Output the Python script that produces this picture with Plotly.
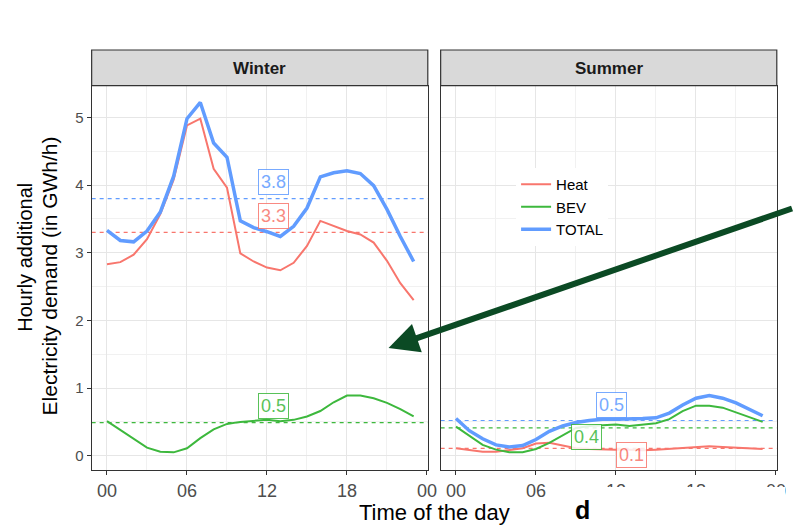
import plotly.graph_objects as go

# ---------------- data ----------------
hours = list(range(24))
tick_vals = [0, 6, 12, 18, 24]
tick_text = ["00", "06", "12", "18", "00"]
seasons = ["Winter", "Summer"]
series_names = ["Heat", "BEV", "TOTAL"]

winter_heat = [2.83, 2.86, 2.97, 3.20, 3.57, 4.08, 4.88, 4.98, 4.24, 3.96, 2.99, 2.87,
               2.78, 2.74, 2.85, 3.10, 3.47, 3.39, 3.32, 3.27, 3.15, 2.88, 2.55, 2.30]
winter_bev = [0.51, 0.38, 0.24, 0.12, 0.06, 0.05, 0.11, 0.26, 0.39, 0.47, 0.50, 0.52,
              0.53, 0.51, 0.53, 0.58, 0.66, 0.79, 0.89, 0.89, 0.85, 0.78, 0.69, 0.58]
winter_total = [3.33, 3.18, 3.16, 3.32, 3.60, 4.13, 4.98, 5.22, 4.62, 4.41, 3.47, 3.37,
                3.31, 3.24, 3.39, 3.66, 4.12, 4.18, 4.21, 4.17, 3.99, 3.64, 3.24, 2.87]

summer_heat = [0.11, 0.09, 0.06, 0.06, 0.09, 0.11, 0.18, 0.19, 0.15, 0.11, 0.10, 0.09,
               0.09, 0.09, 0.08, 0.09, 0.10, 0.12, 0.13, 0.14, 0.13, 0.12, 0.11, 0.10]
summer_bev = [0.43, 0.29, 0.16, 0.09, 0.05, 0.05, 0.10, 0.19, 0.30, 0.41, 0.44, 0.45,
              0.46, 0.44, 0.46, 0.48, 0.54, 0.66, 0.74, 0.74, 0.71, 0.64, 0.57, 0.50]
summer_total = [0.55, 0.37, 0.25, 0.16, 0.13, 0.15, 0.24, 0.36, 0.44, 0.49, 0.52, 0.54,
                0.54, 0.54, 0.55, 0.56, 0.63, 0.75, 0.85, 0.89, 0.85, 0.78, 0.69, 0.59]

# daily means (dashed lines) and their labels
winter_means = [3.30, 0.49, 3.80]
summer_means = [0.11, 0.41, 0.52]
winter_label_text = ["3.3", "0.5", "3.8"]
summer_label_text = ["0.1", "0.4", "0.5"]
winter_label_x = [12.5, 12.5, 12.5]
winter_label_y = [3.54, 0.73, 4.04]
summer_label_x = [13.15, 9.8, 11.65]
summer_label_y = [0.01, 0.27, 0.745]

# ---------------- style ----------------
colors = ["#F8766D", "#3DB83D", "#619CFF"]
widths = [2.0, 2.0, 3.5]
FONT = "Liberation Sans, Arial, Helvetica, sans-serif"
W, H = 794, 527

def px_x(p):
    return p / W

def px_y(p):
    return 1 - p / H

left_dom = [px_x(92.7), px_x(432.7)]
right_dom = [px_x(445.7), px_x(785.7)]
y_dom = [px_y(470), px_y(86)]
x_range = [-1.15, 24.06]
y_range = [-0.211, 5.463]

fig = go.Figure()

panels = [
    ("x", "y", [winter_heat, winter_bev, winter_total], True),
    ("x2", "y2", [summer_heat, summer_bev, summer_total], False),
]
for xa, ya, data, show in panels:
    for name, vals, c, w in zip(series_names, data, colors, widths):
        fig.add_trace(go.Scatter(
            x=hours, y=vals, mode="lines", name=name, xaxis=xa, yaxis=ya,
            line=dict(color=c, width=w), showlegend=show, legendgroup=name,
        ))

shapes = []
annotations = []

# dashed mean lines + labels
for xa, ya, means, ltxt, lx, ly in [
    ("x", "y", winter_means, winter_label_text, winter_label_x, winter_label_y),
    ("x2", "y2", summer_means, summer_label_text, summer_label_x, summer_label_y),
]:
    for m, c in zip(means, colors):
        shapes.append(dict(type="line", xref=f"{xa} domain", yref=ya, x0=0, x1=1, y0=m, y1=m,
                           line=dict(color=c, width=1.2, dash="4px,4px"), layer="below"))
    for t, x, y, c in zip(ltxt, lx, ly, colors):
        annotations.append(dict(xref=xa, yref=ya, x=x, y=y, text=t, showarrow=False,
                                font=dict(family=FONT, size=18, color=c),
                                bgcolor="white", bordercolor=c, borderwidth=1, borderpad=2,
                                opacity=0.85))

# facet strips
for dom, label in zip([left_dom, right_dom], seasons):
    shapes.append(dict(type="rect", xref="paper", yref="paper", x0=dom[0], x1=dom[1],
                       y0=px_y(85.7), y1=px_y(50), fillcolor="#d9d9d9",
                       line=dict(color="#333333", width=1.2), layer="above"))
    annotations.append(dict(xref="paper", yref="paper", x=(dom[0] + dom[1]) / 2, y=px_y(68),
                            text=f"<b>{label}</b>", showarrow=False,
                            font=dict(family=FONT, size=17, color="#1a1a1a"),
                            xanchor="center", yanchor="middle"))

# white patch that hides part of the bottom-right tick labels
shapes.append(dict(type="rect", xref="paper", yref="paper", x0=px_x(600), x1=1.0,
                   y0=0, y1=px_y(487), fillcolor="white", line=dict(width=0), layer="above"))

# axis titles
annotations.append(dict(xref="paper", yref="paper", x=px_x(25), y=px_y(257),
                        text="Hourly additional", textangle=-90, showarrow=False,
                        font=dict(family=FONT, size=20, color="black"),
                        xanchor="center", yanchor="middle"))
annotations.append(dict(xref="paper", yref="paper", x=px_x(50), y=px_y(276),
                        text="Electricity demand (in GWh/h)", textangle=-90, showarrow=False,
                        font=dict(family=FONT, size=21, color="black"),
                        xanchor="center", yanchor="middle"))
annotations.append(dict(xref="paper", yref="paper", x=px_x(439), y=px_y(512),
                        text="Time of the day", showarrow=False,
                        font=dict(family=FONT, size=22, color="black"),
                        xanchor="center", yanchor="middle"))
annotations.append(dict(xref="paper", yref="paper", x=px_x(589), y=px_y(510),
                        text="<b>d</b>", showarrow=False,
                        font=dict(family=FONT, size=25, color="black"),
                        xanchor="center", yanchor="middle"))

# green arrow
annotations.append(dict(xref="paper", yref="paper", x=px_x(393), y=px_y(348),
                        ax=405, ay=-140, axref="pixel", ayref="pixel",
                        text="", showarrow=True, arrowhead=2, arrowsize=1.0,
                        arrowwidth=6, arrowcolor="#0b4a24", standoff=0))

axis_common = dict(
    range=x_range, tickmode="array", tickvals=tick_vals, ticktext=tick_text,
    ticks="outside", ticklen=4, tickcolor="#333333", tickwidth=1,
    showline=True, mirror=True, linecolor="#333333", linewidth=1.2,
    showgrid=True, gridcolor="#e6e6e6", gridwidth=1.2, zeroline=False,
    tickfont=dict(family=FONT, size=18, color="#4d4d4d"),
    minor=dict(tickmode="array", tickvals=[3, 9, 15, 21], showgrid=True,
               gridcolor="#f1f1f1", gridwidth=0.8, ticks=""),
)
yaxis_common = dict(
    range=y_range, domain=y_dom, tickmode="array", tickvals=[0, 1, 2, 3, 4, 5],
    showline=True, mirror=True, linecolor="#333333", linewidth=1.2,
    showgrid=True, gridcolor="#e6e6e6", gridwidth=1.2, zeroline=False,
    minor=dict(tickmode="array", tickvals=[0.5, 1.5, 2.5, 3.5, 4.5], showgrid=True,
               gridcolor="#f1f1f1", gridwidth=0.8, ticks=""),
)

fig.update_layout(
    width=W, height=H, autosize=False,
    margin=dict(l=0, r=0, t=0, b=0),
    paper_bgcolor="white", plot_bgcolor="white",
    font=dict(family=FONT, color="#333333"),
    xaxis=dict(domain=left_dom, anchor="y", **axis_common),
    xaxis2=dict(domain=right_dom, anchor="y2", **axis_common),
    yaxis=dict(anchor="x", ticks="outside", ticklen=4, tickcolor="#333333",
               tickfont=dict(family=FONT, size=15, color="#4d4d4d"), **yaxis_common),
    yaxis2=dict(anchor="x2", matches="y", showticklabels=False, ticks="", **yaxis_common),
    legend=dict(x=px_x(522), y=px_y(168), xanchor="left", yanchor="top",
                bgcolor="white", borderwidth=0,
                font=dict(family=FONT, size=15, color="black"),
                tracegroupgap=0, itemwidth=30),
    shapes=shapes, annotations=annotations,
    showlegend=True,
)

fig.write_html("out.html", config={"displayModeBar": False},
               post_script="document.body.style.margin='0';document.body.style.padding='0';")
